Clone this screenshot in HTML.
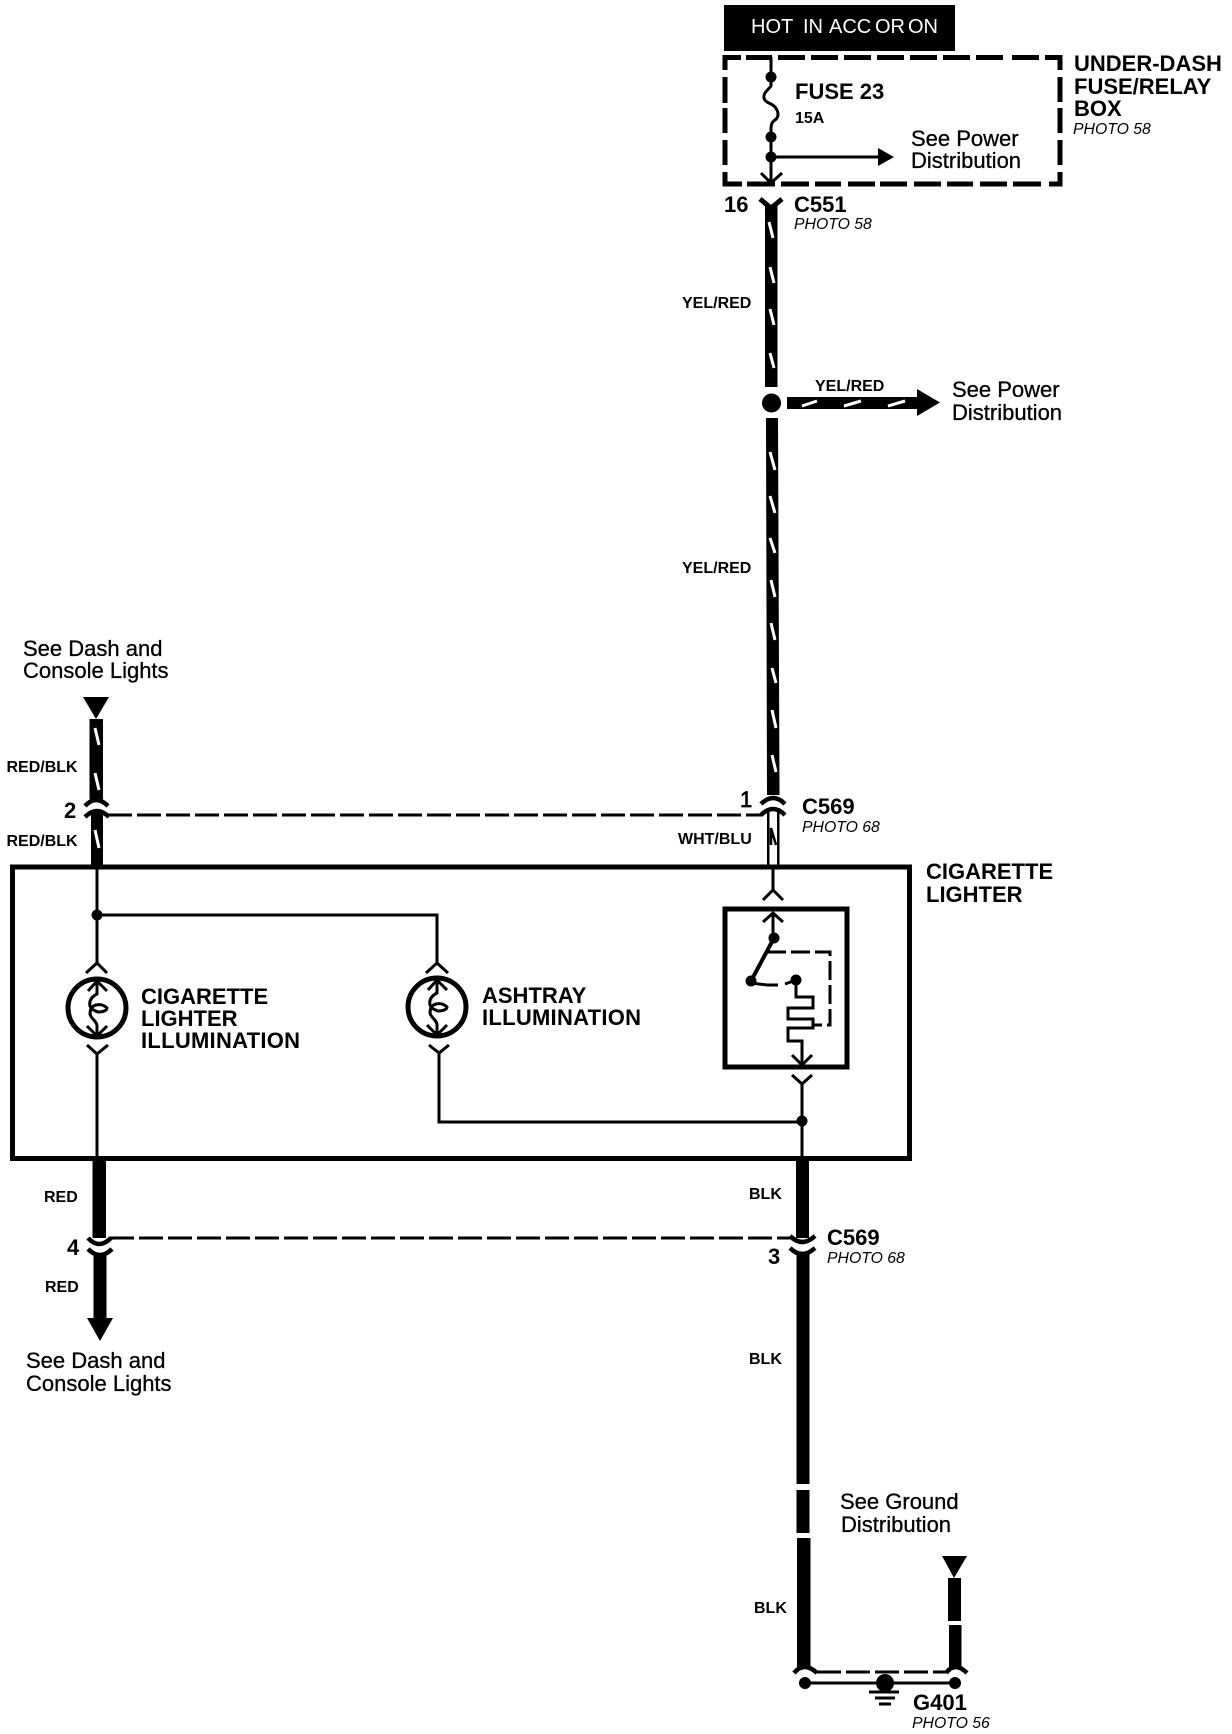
<!DOCTYPE html>
<html><head><meta charset="utf-8"><title>Cigarette Lighter Wiring Diagram</title>
<style>
html,body{margin:0;padding:0;background:#fff}
svg{display:block}
text{font-family:"Liberation Sans",Arial,sans-serif;fill:#000}
.b{font-weight:bold;font-size:22px}
.s{font-weight:bold;font-size:16px}
.n{font-size:22px;stroke:#000;stroke-width:.3px}
.i{font-style:italic;font-size:15.8px}
</style></head><body>
<svg width="1232" height="1734" viewBox="0 0 1232 1734" xmlns="http://www.w3.org/2000/svg">
<rect width="1232" height="1734" fill="#fff"/>

<!-- header -->
<rect x="724" y="5" width="231" height="46" fill="#000"/>
<text y="33" style="font-size:20px;fill:#fff"><tspan x="751">HOT</tspan><tspan x="803">IN</tspan><tspan x="829">ACC</tspan><tspan x="875">OR</tspan><tspan x="908">ON</tspan></text>

<!-- dashed fuse box -->
<g fill="none" stroke="#000" stroke-width="5">
<path d="M725,70V57.5H741M746,57.5H772M778,57.5H805M811,57.5H838M844,57.5H871M877,57.5H904M910,57.5H937M943,57.5H970M976,57.5H1003M1012,57.5H1039M1045,57.5H1060V70"/>
<path d="M725,77V103M725,108V133M725,140V165M725,172V184H742M747,184H775M781,184H809M815,184H841M848,184H875M880,184H907M914,184H941M947,184H973M980,184H1007M1013,184H1041M1049,184H1060V172M1060,165V140M1060,133V108M1060,102V77"/>
</g>

<!-- fuse -->
<g fill="none" stroke="#000" stroke-width="3">
<path d="M771,57V86C768,90 763,93 764,98C765,103 772,103 775,107C779,112 779,117 775,120C772,122 771,124 771,130V183"/>
<path d="M761,173L771,183L782,173"/>
<path d="M771,157H880"/>
</g>
<circle cx="771" cy="77" r="5.5"/><circle cx="771" cy="137" r="5.5"/><circle cx="771" cy="157" r="5.5"/>
<polygon points="878,148 894,157 878,166"/>

<text class="b" x="795" y="99">FUSE 23</text>
<text class="s" x="795" y="123">15A</text>
<text class="n" x="911" y="146">See Power</text>
<text class="n" x="911" y="168">Distribution</text>
<text class="b" x="1074" y="71">UNDER-DASH</text>
<text class="b" x="1074" y="94">FUSE/RELAY</text>
<text class="b" x="1074" y="116">BOX</text>
<text class="i" x="1073" y="134">PHOTO 58</text>

<text class="b" x="724" y="212">16</text>
<text class="b" x="794" y="212">C551</text>
<text class="i" x="794" y="229">PHOTO 58</text>
<text class="s" x="682" y="308">YEL/RED</text>

<!-- main YEL/RED wire -->
<path d="M760,199L771,208L782,199" fill="none" stroke="#000" stroke-width="5"/>
<rect x="765" y="206" width="12.5" height="181"/>
<circle cx="771.5" cy="403" r="9.5"/>
<polygon points="766,418 778,418 779.5,795 767,795"/>
<rect x="787" y="397" width="130" height="12"/>
<polygon points="917,389 940,402.5 917,416"/>
<g stroke="#fff" stroke-width="3" fill="none">
<path d="M769,222L773,238M770,267L774,283M770,309L774,325M770,353L774,368"/>
<path d="M770,452L775,470M770,496L775,513M770,538L775,553M771,580L775,597M771,623L775,640M772,668L776,683M772,710L776,728M772,755L776,772"/>
<path d="M802,406L817,401M844,406L861,401M888,406L905,401"/>
</g>
<text class="s" x="815" y="391">YEL/RED</text>
<text class="n" x="952" y="397">See Power</text>
<text class="n" x="952" y="420">Distribution</text>
<text class="s" x="682" y="573">YEL/RED</text>

<!-- C569 top right -->
<g fill="none" stroke="#000" stroke-width="4.5">
<path d="M761,804Q773,792 785,804"/>
<path d="M761,815Q773,803 785,815"/>
</g>
<rect x="767" y="808" width="2.5" height="58"/>
<rect x="777" y="808" width="2.5" height="58"/>
<path d="M771,845V828L776,845" fill="none" stroke="#000" stroke-width="2.5"/>
<text class="n" x="740" y="807" style="stroke-width:.7px">1</text>
<text class="b" x="802" y="814">C569</text>
<text class="i" x="802" y="832">PHOTO 68</text>
<text class="s" x="678" y="844">WHT/BLU</text>

<!-- top-left wire -->
<polygon points="83,697 109,697 96,719"/>
<rect x="89.5" y="719" width="13.5" height="80"/>
<rect x="91" y="812" width="12" height="55"/>
<g fill="none" stroke="#000" stroke-width="4.5">
<path d="M85,806Q96,794 108,806"/>
<path d="M85,817Q97,805 109,817"/>
</g>
<g stroke="#fff" stroke-width="3" fill="none">
<path d="M95,728L99,745M95,773L99,790M95,830L99,848"/>
</g>
<path d="M108,815H763" fill="none" stroke="#000" stroke-width="3" stroke-dasharray="24 5"/>
<text class="n" x="23" y="656">See Dash and</text>
<text class="n" x="23" y="678">Console Lights</text>
<text class="s" x="6.5" y="772">RED/BLK</text>
<text class="s" x="6.5" y="846">RED/BLK</text>
<text class="b" x="64" y="818">2</text>

<!-- main component box -->
<rect x="12.5" y="867" width="897" height="291.5" fill="none" stroke="#000" stroke-width="5"/>
<text class="b" x="926" y="879">CIGARETTE</text>
<text class="b" x="926" y="902">LIGHTER</text>

<!-- internal wiring -->
<g fill="none" stroke="#000" stroke-width="3">
<path d="M97,867V963M86,973L97,963L107,973"/>
<path d="M97,915H437V963M426,973L437,963L448,973"/>
<path d="M87,1045L97,1054L108,1045M97,1054V1158"/>
<path d="M429,1045L439,1053L449,1045M439,1053V1122H802"/>
<path d="M773,867V890M763,900L773,890L783,900"/>
<path d="M802,1084V1158M792,1075L802,1084L812,1075"/>
</g>
<circle cx="97" cy="915" r="5.5"/>
<circle cx="802" cy="1121" r="5.5"/>

<!-- lamp 1 -->
<g fill="none" stroke="#000">
<circle cx="97" cy="1008" r="29" stroke-width="5"/>
<path d="M88,991L97,981L107,991M97,981V994C91,997 89,1001 90,1006C91,1009 93,1010 98,1012C104,1012 107,1010 107,1008C104,1005 100,1004 96,1005C92,1006 90,1009 90,1014C91,1019 97,1021 97,1026V1036M87,1026L97,1036L107,1026" stroke-width="3"/>
</g>
<!-- lamp 2 -->
<g fill="none" stroke="#000">
<circle cx="437" cy="1007" r="29" stroke-width="5"/>
<path d="M428,990L437,980L447,990M437,980V993C431,996 429,1000 430,1005C431,1008 433,1009 438,1011C444,1011 447,1009 447,1007C444,1004 440,1003 436,1004C432,1005 430,1008 430,1013C431,1018 437,1020 437,1025V1035M427,1025L437,1035L447,1025" stroke-width="3"/>
</g>
<text class="b" x="141" y="1004">CIGARETTE</text>
<text class="b" x="141" y="1026">LIGHTER</text>
<text class="b" x="141" y="1048" textLength="159" lengthAdjust="spacing">ILLUMINATION</text>
<text class="b" x="482" y="1003">ASHTRAY</text>
<text class="b" x="482" y="1025" textLength="159" lengthAdjust="spacing">ILLUMINATION</text>

<!-- inner switch box -->
<rect x="725" y="909" width="122" height="158" fill="none" stroke="#000" stroke-width="5"/>
<g fill="none" stroke="#000" stroke-width="3">
<path d="M763,922L773,913L783,922M773,913V938"/>
<path d="M774,938L751,981" stroke-width="4"/>
<path d="M767,952H830V1025H813" stroke-dasharray="19 5"/>
<path d="M751,983L767,985H778M785,984L796,980"/>
<path d="M796,980V997H813V1008H788V1019H813V1028H788V1041H802V1065M792,1055L802,1065L812,1055"/>
</g>
<circle cx="774" cy="938" r="5.5"/>
<circle cx="751" cy="981" r="5.5"/>
<circle cx="796" cy="980" r="5.5"/>

<!-- lower right wire -->
<rect x="796" y="1158" width="13" height="80"/>
<g fill="none" stroke="#000" stroke-width="4.5">
<path d="M790,1236Q802,1248 815,1236"/>
<path d="M790,1248Q802,1260 815,1248"/>
</g>
<rect x="796.5" y="1253" width="13" height="231"/>
<rect x="796.5" y="1490" width="13" height="43"/>
<rect x="797" y="1538" width="13.5" height="130"/>
<text class="s" x="749" y="1199">BLK</text>
<text class="b" x="827" y="1245">C569</text>
<text class="i" x="827" y="1263">PHOTO 68</text>
<text class="b" x="768" y="1264">3</text>
<text class="s" x="749" y="1364">BLK</text>
<text class="s" x="754" y="1613">BLK</text>

<!-- lower left wire -->
<rect x="92.5" y="1158" width="13.5" height="80"/>
<g fill="none" stroke="#000" stroke-width="4.5">
<path d="M88,1238Q99,1250 111,1238"/>
<path d="M88,1249Q100,1261 112,1249"/>
</g>
<rect x="93.5" y="1254" width="13" height="64"/>
<polygon points="87,1318 113,1318 100,1341"/>
<path d="M110,1238H790" fill="none" stroke="#000" stroke-width="3" stroke-dasharray="24 5"/>
<text class="s" x="44" y="1202">RED</text>
<text class="s" x="45" y="1292">RED</text>
<text class="b" x="67" y="1255">4</text>
<text class="n" x="26" y="1368">See Dash and</text>
<text class="n" x="26" y="1391">Console Lights</text>

<!-- ground -->
<polygon points="942,1556 967,1556 954,1578"/>
<rect x="948" y="1578" width="13" height="43"/>
<rect x="949" y="1625" width="12.5" height="43"/>
<g fill="none" stroke="#000" stroke-width="4.5">
<path d="M794,1673Q804,1661 817,1673"/>
<path d="M946,1673Q955,1661 967,1673"/>
</g>
<path d="M817,1672H946" fill="none" stroke="#000" stroke-width="3" stroke-dasharray="24 5"/>
<path d="M805,1683H955" fill="none" stroke="#000" stroke-width="3"/>
<circle cx="805" cy="1683" r="6"/><circle cx="955" cy="1683" r="6"/><circle cx="885" cy="1683" r="9"/>
<g stroke="#000" stroke-width="3" fill="none">
<path d="M869,1692H899M875,1698H895M879,1704H891"/>
</g>
<text class="n" x="840" y="1509">See Ground</text>
<text class="n" x="841" y="1532">Distribution</text>
<text class="b" x="913" y="1710">G401</text>
<text class="i" x="912" y="1728">PHOTO 56</text>
</svg>
</body></html>
